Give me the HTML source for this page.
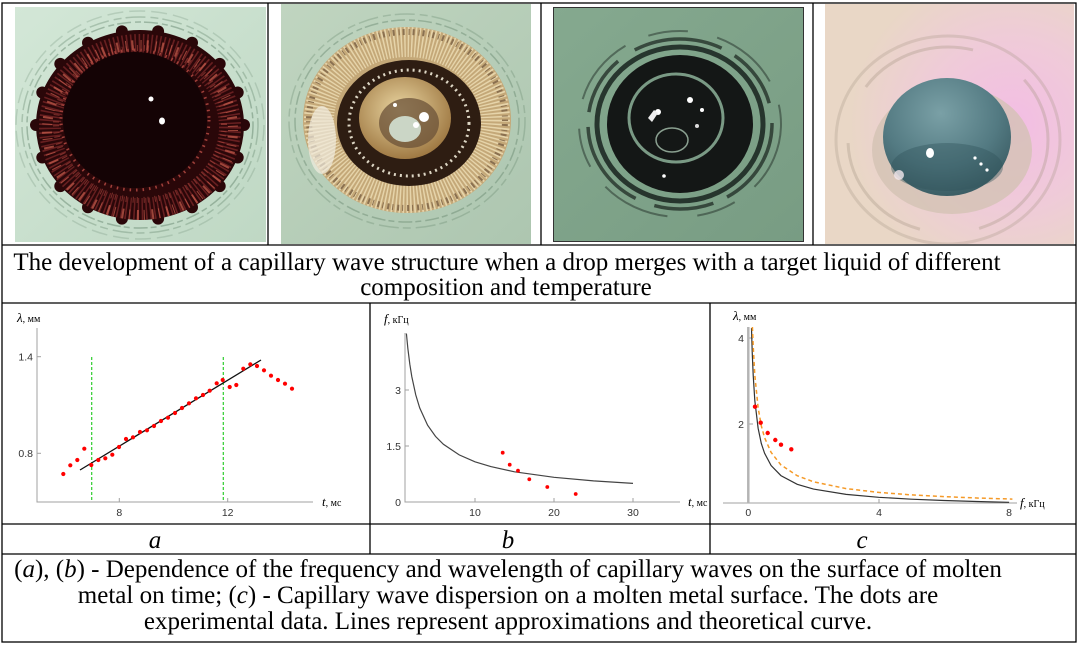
<!DOCTYPE html>
<html><head><meta charset="utf-8">
<style>
html,body{margin:0;padding:0;background:#fff;}
svg{display:block;}
.tk{font-family:"Liberation Sans",Arial,sans-serif;font-size:10.5px;fill:#333;}
.ser{font-family:"Liberation Serif","Times New Roman",serif;fill:#000;}
.cap{font-family:"Liberation Serif","Times New Roman",serif;font-size:25px;fill:#000;}
</style></head><body>
<svg width="1080" height="646" viewBox="0 0 1080 646" xmlns="http://www.w3.org/2000/svg">
<defs>
  <clipPath id="c1"><rect x="15" y="7" width="251" height="235"/></clipPath>
  <clipPath id="c2"><rect x="281" y="4" width="250" height="240"/></clipPath>
  <clipPath id="c3"><rect x="553" y="7" width="251" height="235"/></clipPath>
  <clipPath id="c4"><rect x="825" y="4" width="249" height="240"/></clipPath>
  <clipPath id="cb"><rect x="371" y="304" width="338" height="219"/></clipPath>
  <clipPath id="cc"><rect x="711" y="304" width="364" height="219"/></clipPath>
  <linearGradient id="g1" x1="0" y1="0" x2="1" y2="1"><stop offset="0" stop-color="#d3e7d7"/><stop offset="1" stop-color="#bfd8c4"/></linearGradient>
  <linearGradient id="g2" x1="0" y1="0" x2="1" y2="1"><stop offset="0" stop-color="#c0d5c0"/><stop offset="1" stop-color="#adc6b0"/></linearGradient>
  <linearGradient id="g3" x1="0" y1="0" x2="1" y2="1"><stop offset="0" stop-color="#85a98f"/><stop offset="1" stop-color="#789c83"/></linearGradient>
  <radialGradient id="g4" cx="0.75" cy="0.5" r="0.65"><stop offset="0" stop-color="#f3bde4"/><stop offset="0.55" stop-color="#efcbd8"/><stop offset="1" stop-color="#e9d7c6"/></radialGradient>
  <radialGradient id="gold" cx="0.45" cy="0.4" r="0.6"><stop offset="0" stop-color="#ead6a2"/><stop offset="1" stop-color="#a07a44"/></radialGradient>
  <radialGradient id="teal" cx="0.45" cy="0.3" r="0.75"><stop offset="0" stop-color="#7aa0a6"/><stop offset="0.6" stop-color="#537a82"/><stop offset="1" stop-color="#37585f"/></radialGradient>
</defs>
<rect width="1080" height="646" fill="#fff"/>

<!-- Photo 1 -->
<g clip-path="url(#c1)">
  <rect x="15" y="7" width="251" height="235" fill="url(#g1)"/>
  <g fill="none" stroke="#4f7459" stroke-width="1.5">
    <ellipse cx="140" cy="125" rx="113" ry="103" stroke-opacity=".4" stroke-dasharray="14 4 6 3"/>
    <ellipse cx="140" cy="125" rx="118" ry="108" stroke-opacity=".3" stroke-dasharray="20 5 8 4"/>
    <ellipse cx="140" cy="125" rx="124" ry="114" stroke-opacity=".2" stroke-dasharray="16 6"/>
  </g>
  <ellipse cx="140" cy="125" rx="104" ry="95" fill="#2a0709"/>
  <g fill="#2a0709">
    <circle cx="244" cy="125" r="6"/><circle cx="237.7" cy="157.5" r="6"/><circle cx="219.7" cy="186.1" r="6"/><circle cx="192" cy="207.3" r="6"/><circle cx="158.1" cy="218.6" r="6"/><circle cx="121.9" cy="218.6" r="6"/><circle cx="88" cy="207.3" r="6"/><circle cx="60.3" cy="186.1" r="6"/><circle cx="42.3" cy="157.5" r="6"/><circle cx="36" cy="125" r="6"/><circle cx="42.3" cy="92.5" r="6"/><circle cx="60.3" cy="63.9" r="6"/><circle cx="88" cy="42.7" r="6"/><circle cx="121.9" cy="31.4" r="6"/><circle cx="158.1" cy="31.4" r="6"/><circle cx="192" cy="42.7" r="6"/><circle cx="219.7" cy="63.9" r="6"/><circle cx="237.7" cy="92.5" r="6"/>
  </g>
  <ellipse cx="140" cy="127" rx="90" ry="82" fill="none" stroke="#6e2224" stroke-width="22" stroke-dasharray="1.5 2.5" opacity=".9"/>
  <ellipse cx="140" cy="130" rx="93" ry="85" fill="none" stroke="#c25a4a" stroke-width="10" stroke-dasharray="1 5 2 7" opacity=".75"/>
  <ellipse cx="140" cy="124" rx="84" ry="76" fill="none" stroke="#b04a40" stroke-width="6" stroke-dasharray="1 6 1 3" opacity=".6"/>
  <ellipse cx="135" cy="120" rx="72" ry="68" fill="#140305"/>
  <ellipse cx="135" cy="120" rx="74" ry="70" fill="none" stroke="#a0403a" stroke-width="3" stroke-dasharray="1.5 5"/>
  <circle cx="151" cy="99" r="2.5" fill="#fff"/>
  <ellipse cx="162" cy="121" rx="3" ry="3.5" fill="#fff"/>
</g>

<!-- Photo 2 -->
<g clip-path="url(#c2)">
  <rect x="281" y="4" width="250" height="240" fill="url(#g2)"/>
  <g fill="none" stroke="#4f7459" stroke-width="1.5">
    <ellipse cx="407" cy="121" rx="112" ry="101" stroke-opacity=".35" stroke-dasharray="14 4 6 3"/>
    <ellipse cx="407" cy="121" rx="118" ry="107" stroke-opacity=".25" stroke-dasharray="20 5 8 4"/>
  </g>
  <ellipse cx="407" cy="120" rx="104" ry="93" fill="#c4a878"/>
  <ellipse cx="407" cy="120" rx="88" ry="78" fill="none" stroke="#e6d4aa" stroke-width="30" stroke-dasharray="1.5 2"/>
  <ellipse cx="407" cy="120" rx="98" ry="88" fill="none" stroke="#8a7050" stroke-width="6" stroke-dasharray="1 3 2 4"/>
  <ellipse cx="322" cy="140" rx="14" ry="34" fill="#f1ece0" opacity=".7"/>
  <ellipse cx="409" cy="123" rx="72" ry="63" fill="#2e1d12"/>
  <ellipse cx="409" cy="123" rx="60" ry="53" fill="none" stroke="#ddd6c4" stroke-width="3" stroke-dasharray="2 4"/>
  <ellipse cx="405" cy="118" rx="46" ry="41" fill="url(#gold)"/>
  <ellipse cx="409" cy="123" rx="30" ry="25" fill="#6b5238" opacity=".75"/>
  <ellipse cx="405" cy="129" rx="16" ry="13" fill="#cbd6c6"/>
  <circle cx="424" cy="117" r="5" fill="#fff"/>
  <circle cx="416" cy="125" r="3" fill="#fff"/>
  <circle cx="395" cy="105" r="2" fill="#fff"/>
</g>

<!-- Photo 3 -->
<g clip-path="url(#c3)">
  <rect x="553" y="7" width="251" height="235" fill="url(#g3)"/>
  <g fill="none" stroke="#18221d">
    <ellipse cx="680" cy="124" rx="101" ry="93" stroke-width="2" stroke-opacity=".45" stroke-dasharray="70 25 40 30"/>
    <ellipse cx="680" cy="124" rx="92" ry="85" stroke-width="3.5" stroke-opacity=".7" stroke-dasharray="90 15 60 20"/>
    <ellipse cx="680" cy="124" rx="83" ry="77" stroke-width="5" stroke-opacity=".85"/>
  </g>
  <ellipse cx="680" cy="124" rx="73" ry="69" fill="#141716"/>
  <ellipse cx="676" cy="118" rx="47" ry="44" fill="none" stroke="#7a9a85" stroke-width="3"/>
  <ellipse cx="672" cy="140" rx="16" ry="12" fill="none" stroke="#8aa090" stroke-width="1.5"/>
  <circle cx="658" cy="112" r="3" fill="#fff"/>
  <path d="M648 118 l6 -8 l4 3 l-6 9z" fill="#eee"/>
  <circle cx="690" cy="100" r="3" fill="#fff"/>
  <circle cx="702" cy="110" r="2" fill="#fff"/>
  <circle cx="697" cy="126" r="2" fill="#ddd"/>
  <circle cx="664" cy="176" r="1.8" fill="#fff"/>
  <rect x="553.5" y="7.5" width="250" height="234" fill="none" stroke="#333" stroke-width="1"/>
</g>

<!-- Photo 4 -->
<g clip-path="url(#c4)">
  <rect x="825" y="4" width="249" height="240" fill="url(#g4)"/>
  <g fill="none" stroke="#a89888">
    <ellipse cx="948" cy="140" rx="112" ry="104" stroke-width="3" stroke-opacity=".3"/>
    <ellipse cx="948" cy="140" rx="100" ry="93" stroke-width="3" stroke-opacity=".35" stroke-dasharray="120 60"/>
  </g>
  <ellipse cx="952" cy="150" rx="80" ry="64" fill="#d2c2b2" opacity=".75"/>
  <ellipse cx="947" cy="137" rx="64" ry="59" fill="url(#teal)"/>
  <ellipse cx="947" cy="167" rx="56" ry="24" fill="#30525a" opacity=".4"/>
  <ellipse cx="930" cy="153" rx="4" ry="5" fill="#fff"/>
  <circle cx="975" cy="158" r="1.6" fill="#fff"/><circle cx="981" cy="164" r="1.6" fill="#fff"/><circle cx="987" cy="170" r="1.6" fill="#fff"/>
  <circle cx="899" cy="175" r="5" fill="#f4e8ee" opacity=".8"/>
</g>

<!-- Table lines -->
<g stroke="#000" stroke-width="1.3" fill="none">
  <rect x="2" y="3" width="1074" height="639"/>
  <line x1="2" y1="245" x2="1076" y2="245"/>
  <line x1="2" y1="303" x2="1076" y2="303"/>
  <line x1="2" y1="524" x2="1076" y2="524"/>
  <line x1="2" y1="554" x2="1076" y2="554"/>
  <line x1="268" y1="3" x2="268" y2="245"/>
  <line x1="541" y1="3" x2="541" y2="245"/>
  <line x1="813" y1="3" x2="813" y2="245"/>
  <line x1="370" y1="303" x2="370" y2="554"/>
  <line x1="710" y1="303" x2="710" y2="554"/>
</g>

<!-- Top caption -->
<text class="cap" x="507" y="270" text-anchor="middle">The development of a capillary wave structure when a drop merges with a target liquid of different</text>
<text class="cap" x="506" y="295" text-anchor="middle">composition and temperature</text>

<!-- Chart a -->
<g>
  <path d="M37 328V502H313" fill="none" stroke="#a0a0a0" stroke-width="1"/>
  <g stroke="#a0a0a0"><line x1="37" y1="356.7" x2="41" y2="356.7"/><line x1="37" y1="453.3" x2="41" y2="453.3"/><line x1="119.3" y1="502" x2="119.3" y2="498"/><line x1="227.7" y1="502" x2="227.7" y2="498"/></g>
  <text class="tk" x="33" y="360.5" text-anchor="end">1.4</text>
  <text class="tk" x="33" y="457" text-anchor="end">0.8</text>
  <text class="tk" x="119.3" y="516" text-anchor="middle">8</text>
  <text class="tk" x="227.7" y="516" text-anchor="middle">12</text>
  <g stroke="#2ecc2e" stroke-width="1.2" stroke-dasharray="3 2"><line x1="91.7" y1="357" x2="91.7" y2="502"/><line x1="223.3" y1="357" x2="223.3" y2="502"/></g>
  <line x1="80" y1="470" x2="261" y2="360" stroke="#111" stroke-width="1.3"/>
  <g fill="#f00">
    <circle cx="63.3" cy="474" r="2.1"/><circle cx="70.3" cy="465.3" r="2.1"/><circle cx="77.3" cy="460" r="2.1"/><circle cx="84.3" cy="448.7" r="2.1"/><circle cx="91.3" cy="465" r="2.1"/><circle cx="98.3" cy="460" r="2.1"/><circle cx="105.3" cy="458.3" r="2.1"/><circle cx="112.3" cy="454.7" r="2.1"/><circle cx="119" cy="447" r="2.1"/><circle cx="126" cy="439" r="2.1"/><circle cx="133" cy="437.3" r="2.1"/><circle cx="140" cy="432" r="2.1"/><circle cx="147" cy="430.3" r="2.1"/><circle cx="154" cy="426" r="2.1"/><circle cx="161" cy="421" r="2.1"/><circle cx="168" cy="417.7" r="2.1"/><circle cx="175" cy="413" r="2.1"/><circle cx="182" cy="408" r="2.1"/><circle cx="189" cy="403.3" r="2.1"/><circle cx="196" cy="398.3" r="2.1"/><circle cx="203" cy="395" r="2.1"/><circle cx="209.7" cy="390.7" r="2.1"/><circle cx="216.7" cy="383.3" r="2.1"/><circle cx="222.7" cy="380" r="2.1"/><circle cx="229.7" cy="387" r="2.1"/><circle cx="236.3" cy="385" r="2.1"/><circle cx="243.3" cy="368.7" r="2.1"/><circle cx="250.3" cy="364.3" r="2.1"/><circle cx="257" cy="366" r="2.1"/><circle cx="264" cy="370.3" r="2.1"/><circle cx="271" cy="375.7" r="2.1"/><circle cx="278" cy="380" r="2.1"/><circle cx="285" cy="383.7" r="2.1"/><circle cx="292" cy="388.7" r="2.1"/>
  </g>
  <text class="ser" x="17" y="322"><tspan font-style="italic" font-size="13">λ</tspan><tspan font-size="10">, мм</tspan></text>
  <text class="ser" x="322" y="506"><tspan font-style="italic" font-size="13">t</tspan><tspan font-size="10">, мс</tspan></text>
</g>

<!-- Chart b -->
<g clip-path="url(#cb)">
  <path d="M405 333V502H680" fill="none" stroke="#a0a0a0" stroke-width="1"/>
  <g stroke="#a0a0a0"><line x1="405" y1="390" x2="409" y2="390"/><line x1="405" y1="446" x2="409" y2="446"/><line x1="475" y1="502" x2="475" y2="498"/><line x1="554" y1="502" x2="554" y2="498"/><line x1="633" y1="502" x2="633" y2="498"/></g>
  <text class="tk" x="401" y="394" text-anchor="end">3</text>
  <text class="tk" x="401" y="450" text-anchor="end">1.5</text>
  <text class="tk" x="401" y="506" text-anchor="end">0</text>
  <text class="tk" x="475" y="516" text-anchor="middle">10</text>
  <text class="tk" x="554" y="516" text-anchor="middle">20</text>
  <text class="tk" x="633" y="516" text-anchor="middle">30</text>
  <polyline fill="none" stroke="#444" stroke-width="1.2" points="406.4,333.5 407.85,348.4 409.8,364.1 411.8,376.6 415.75,394.9 419.7,407.9 427.6,425.2 435.5,436.4 443.4,444.3 459.2,454.9 475,461.8 490.8,466.6 514.5,471.8 554,477.3 593.5,480.9 633,483.4"/>
  <g fill="#f00">
    <circle cx="502.7" cy="452.7" r="1.9"/><circle cx="509.7" cy="464.7" r="1.9"/><circle cx="518" cy="470.7" r="1.9"/><circle cx="529.3" cy="479.3" r="1.9"/><circle cx="547.3" cy="487" r="1.9"/><circle cx="575.7" cy="494" r="1.9"/>
  </g>
  <text class="ser" x="384" y="323"><tspan font-style="italic" font-size="13">f</tspan><tspan font-size="10">, кГц</tspan></text>
  <text class="ser" x="688" y="506"><tspan font-style="italic" font-size="13">t</tspan><tspan font-size="10">, мс</tspan></text>
</g>

<!-- Chart c -->
<g clip-path="url(#cc)">
  <line x1="723" y1="503" x2="1017" y2="503" stroke="#a0a0a0" stroke-width="1"/>
  <line x1="748.3" y1="327" x2="748.3" y2="503" stroke="#b4b4b4" stroke-width="2.5"/>
  <g stroke="#a0a0a0"><line x1="749.5" y1="338" x2="753" y2="338"/><line x1="749.5" y1="424" x2="753" y2="424"/><line x1="879" y1="503" x2="879" y2="499"/></g>
  <text class="tk" x="744" y="342" text-anchor="end">4</text>
  <text class="tk" x="744" y="428" text-anchor="end">2</text>
  <text class="tk" x="748.3" y="516" text-anchor="middle">0</text>
  <text class="tk" x="879" y="516" text-anchor="middle">4</text>
  <text class="tk" x="1009" y="516" text-anchor="middle">8</text>
  <polyline fill="none" stroke="#333" stroke-width="1.2" points="751.5,328.1 752.2,351.8 753.2,375.2 754.8,400.4 758.1,428.1 761.3,443.5 764.6,453.3 771.1,465.5 780.9,475.6 797.2,484.3 813.5,489.1 846.1,494.4 878.7,497.3 911.3,499.2 943.9,500.5 976.5,501.5 1009.1,502.3"/>
  <polyline fill="none" stroke="#f59a28" stroke-width="1.5" stroke-dasharray="4 3" points="752.4,327 753.2,346.1 754.8,375.1 758.1,407.6 761.3,425.8 764.6,437.7 771.1,452.4 780.9,464.9 797.2,475.7 813.5,481.8 846.1,488.6 878.7,492.4 911.3,494.9 943.9,496.6 976.5,498 1009.1,499 1012.4,499.1"/>
  <g fill="#f00">
    <circle cx="755" cy="406.7" r="2.2"/><circle cx="760.7" cy="422.7" r="2.2"/><circle cx="767.7" cy="433" r="2.2"/><circle cx="775.3" cy="440" r="2.2"/><circle cx="781" cy="444.7" r="2.2"/><circle cx="791.3" cy="449.3" r="2.2"/>
  </g>
  <text class="ser" x="733" y="320"><tspan font-style="italic" font-size="13">λ</tspan><tspan font-size="10">, мм</tspan></text>
  <text class="ser" x="1020" y="507"><tspan font-style="italic" font-size="13">f</tspan><tspan font-size="10">, кГц</tspan></text>
</g>

<!-- Sub-labels -->
<text class="cap" x="155" y="548" text-anchor="middle" font-style="italic">a</text>
<text class="cap" x="508" y="548" text-anchor="middle" font-style="italic">b</text>
<text class="cap" x="862" y="548" text-anchor="middle" font-style="italic">c</text>

<!-- Bottom caption -->
<text class="cap" x="508" y="577" text-anchor="middle">(<tspan font-style="italic">a</tspan>), (<tspan font-style="italic">b</tspan>) - Dependence of the frequency and wavelength of capillary waves on the surface of molten</text>
<text class="cap" x="508" y="603" text-anchor="middle">metal on time; (<tspan font-style="italic">c</tspan>) - Capillary wave dispersion on a molten metal surface. The dots are</text>
<text class="cap" x="508" y="629" text-anchor="middle">experimental data. Lines represent approximations and theoretical curve.</text>
</svg>
</body></html>
